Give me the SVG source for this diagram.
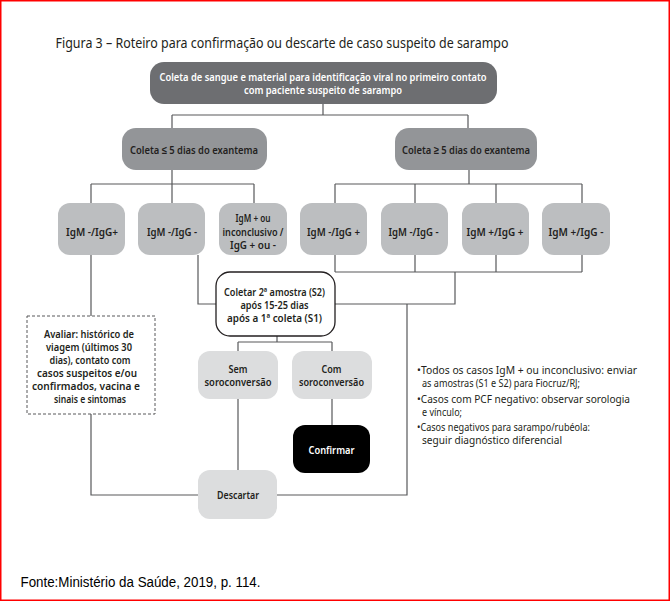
<svg xmlns="http://www.w3.org/2000/svg" width="670" height="601" viewBox="0 0 670 601">
<style>
text{font-family:"Noto Sans","Liberation Sans",Arial,sans-serif;font-size:10.5px;fill:#231f20;text-anchor:middle;font-weight:600}
.w{fill:#ffffff}
.l{font-size:11.5px}
.t{font-size:14px;font-weight:400;text-anchor:start}
.n{font-size:10px;font-weight:400;text-anchor:start}
.f{font-family:"Liberation Sans",Arial,sans-serif;font-size:14px;font-weight:400;fill:#000;text-anchor:start}
.c path{fill:none;stroke:#58595b;stroke-width:1.2}
.d1{fill:#6d6e71}
.d2{fill:#939598}
.d3{fill:#bcbec0}
.d4{fill:#dcddde}
.bk{fill:#000}
.wb{fill:#fff;stroke:#231f20;stroke-width:1.3}
.ds{fill:#fff;stroke:#58595b;stroke-width:1;stroke-dasharray:3 2}
</style>
<rect x="0.75" y="0.75" width="668.5" height="599.5" fill="#fff" stroke="#ff0000" stroke-width="1.5"/>
<text class="t" x="55.5" y="48" textLength="453" lengthAdjust="spacingAndGlyphs">Figura 3 – Roteiro para confirmação ou descarte de caso suspeito de sarampo</text>
<g class="c" id="connectors">
<path d="M323,104V115M172,115H468M172,115V128M468,115V128"/>
<path d="M172,170V184M91,184H254M91,184V203M172,184V203M254,184V203"/>
<path d="M469,170V184M335,184H582M335,184V203M415,184V203M496,184V203M582,184V203"/>
<path d="M335,255V272M415,255V272M496,255V272M582,255V272M335,272H582M455,272V304H335M407,304V495H277"/>
<path d="M91,255V316M91,414V495H198"/>
<path d="M198,255V304H216"/>
<path d="M277,336V342M238,342H332M238,342V351M332,342V351"/>
<path d="M238,399V470M332,399V425"/>
</g>
<g id="n-coleta">
<rect class="d1" x="150" y="62" width="347" height="42" rx="14"/>
<text class="w" x="323" y="81" textLength="327" lengthAdjust="spacingAndGlyphs">Coleta de sangue e material para identificação viral no primeiro contato</text>
<text class="w" x="323" y="94" textLength="158" lengthAdjust="spacingAndGlyphs">com paciente suspeito de sarampo</text>
</g>
<g id="n-le5">
<rect class="d2" x="122" y="128" width="145" height="42" rx="14"/>
<text class="l" x="194" y="154" textLength="128" lengthAdjust="spacingAndGlyphs">Coleta ≤ 5 dias do exantema</text>
</g>
<g id="n-ge5">
<rect class="d2" x="395" y="128" width="142" height="42" rx="14"/>
<text class="l" x="466" y="154" textLength="128" lengthAdjust="spacingAndGlyphs">Coleta ≥ 5 dias do exantema</text>
</g>
<g id="n-a1">
<rect class="d3" x="58" y="203" width="67" height="52" rx="12"/>
<text class="l" x="92" y="236" textLength="52" lengthAdjust="spacingAndGlyphs">IgM -/IgG+</text>
</g>
<g id="n-a2">
<rect class="d3" x="138" y="203" width="67" height="52" rx="12"/>
<text class="l" x="172" y="236" textLength="50" lengthAdjust="spacingAndGlyphs">IgM -/IgG -</text>
</g>
<g id="n-a3">
<rect class="d3" x="219" y="203" width="68" height="52" rx="12"/>
<text x="253" y="221.5" textLength="35" lengthAdjust="spacingAndGlyphs">IgM + ou</text>
<text x="253" y="235.5" textLength="61" lengthAdjust="spacingAndGlyphs">inconclusivo /</text>
<text x="253" y="249" textLength="46" lengthAdjust="spacingAndGlyphs">IgG + ou -</text>
</g>
<g id="n-b1">
<rect class="d3" x="300" y="203" width="67" height="52" rx="12"/>
<text class="l" x="333.5" y="236" textLength="53" lengthAdjust="spacingAndGlyphs">IgM -/IgG +</text>
</g>
<g id="n-b2">
<rect class="d3" x="381" y="203" width="67" height="52" rx="12"/>
<text class="l" x="413.5" y="236" textLength="50" lengthAdjust="spacingAndGlyphs">IgM -/IgG -</text>
</g>
<g id="n-b3">
<rect class="d3" x="462" y="203" width="67" height="52" rx="12"/>
<text class="l" x="495" y="236" textLength="57" lengthAdjust="spacingAndGlyphs">IgM +/IgG +</text>
</g>
<g id="n-b4">
<rect class="d3" x="542" y="203" width="68" height="52" rx="12"/>
<text class="l" x="576" y="236" textLength="55" lengthAdjust="spacingAndGlyphs">IgM +/IgG -</text>
</g>
<g id="n-coletar">
<rect class="wb" x="216" y="272" width="119" height="64" rx="14"/>
<text x="274.5" y="295.5" textLength="101" lengthAdjust="spacingAndGlyphs">Coletar 2ª amostra (S2)</text>
<text x="274.5" y="308.5" textLength="68" lengthAdjust="spacingAndGlyphs">após 15-25 dias</text>
<text x="274.5" y="321.5" textLength="95" lengthAdjust="spacingAndGlyphs">após a 1ª coleta (S1)</text>
</g>
<g id="n-avaliar">
<rect class="ds" x="27" y="316" width="128" height="98"/>
<text x="89" y="337.5" textLength="90" lengthAdjust="spacingAndGlyphs">Avaliar: histórico de</text>
<text x="89" y="350.5" textLength="86" lengthAdjust="spacingAndGlyphs">viagem (últimos 30</text>
<text x="90" y="363.5" textLength="81" lengthAdjust="spacingAndGlyphs">dias), contato com</text>
<text x="87" y="376.5" textLength="100" lengthAdjust="spacingAndGlyphs">casos suspeitos e/ou</text>
<text x="86" y="389.5" textLength="108" lengthAdjust="spacingAndGlyphs">confirmados, vacina e</text>
<text x="90" y="402.5" textLength="72" lengthAdjust="spacingAndGlyphs">sinais e sintomas</text>
</g>
<g id="n-sem">
<rect class="d4" x="198" y="351" width="80" height="48" rx="12"/>
<text x="238" y="372.5" textLength="19" lengthAdjust="spacingAndGlyphs">Sem</text>
<text x="238" y="385.5" textLength="67" lengthAdjust="spacingAndGlyphs">soroconversão</text>
</g>
<g id="n-com">
<rect class="d4" x="292" y="351" width="80" height="48" rx="12"/>
<text x="331.5" y="372.5" textLength="20" lengthAdjust="spacingAndGlyphs">Com</text>
<text x="331.5" y="385.5" textLength="65" lengthAdjust="spacingAndGlyphs">soroconversão</text>
</g>
<g id="n-confirmar">
<rect class="bk" x="293" y="425" width="77" height="48" rx="12"/>
<text class="w l" x="331.5" y="454" textLength="46" lengthAdjust="spacingAndGlyphs">Confirmar</text>
</g>
<g id="n-descartar">
<rect class="d4" x="198" y="470" width="79" height="49" rx="12"/>
<text class="l" x="238" y="499" textLength="42" lengthAdjust="spacingAndGlyphs">Descartar</text>
</g>
<g id="notes">
<text class="n" x="417" y="373.5" textLength="220" lengthAdjust="spacingAndGlyphs">•Todos os casos IgM + ou inconclusivo: enviar</text>
<text class="n" x="422" y="386.5" textLength="158" lengthAdjust="spacingAndGlyphs">as amostras (S1 e S2) para Fiocruz/RJ;</text>
<text class="n" x="417" y="402.5" textLength="213" lengthAdjust="spacingAndGlyphs">•Casos com PCF negativo: observar sorologia</text>
<text class="n" x="422" y="415.5" textLength="40" lengthAdjust="spacingAndGlyphs">e vínculo;</text>
<text class="n" x="417" y="430.5" textLength="173" lengthAdjust="spacingAndGlyphs">•Casos negativos para sarampo/rubéola:</text>
<text class="n" x="422" y="443.5" textLength="140" lengthAdjust="spacingAndGlyphs">seguir diagnóstico diferencial</text>
</g>
<text class="f" x="20.5" y="587" textLength="240" lengthAdjust="spacingAndGlyphs">Fonte:Ministério da Saúde, 2019, p. 114.</text>
</svg>
